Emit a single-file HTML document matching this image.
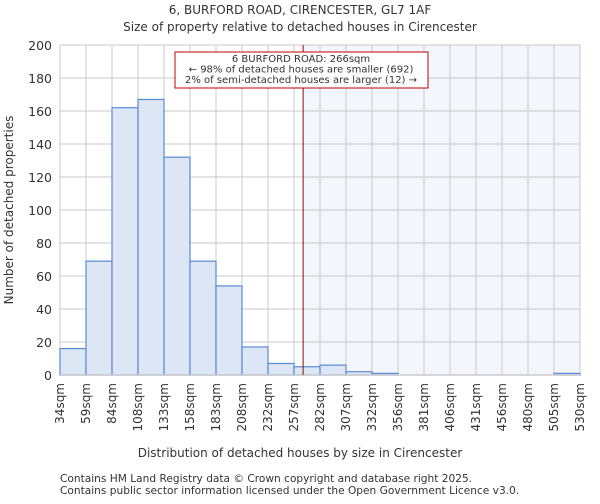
<!DOCTYPE html>
<html><head><meta charset="utf-8"><style>
body{margin:0;background:#fff;font-family:"DejaVu Sans","Liberation Sans",sans-serif}
svg text{font-family:"DejaVu Sans","Liberation Sans",sans-serif;fill:#333}
</style></head><body>
<svg width="600" height="500">
<text x="300" y="14" text-anchor="middle" font-size="12">6, BURFORD ROAD, CIRENCESTER, GL7 1AF</text>
<text x="300" y="31" text-anchor="middle" font-size="12">Size of property relative to detached houses in Cirencester</text>
<g id="plot"></g>
<text x="300" y="457" text-anchor="middle" font-size="12">Distribution of detached houses by size in Cirencester</text>
<text transform="translate(13,210) rotate(-90)" text-anchor="middle" font-size="12">Number of detached properties</text>
<text x="60" y="482" font-size="10.6" fill="#555">Contains HM Land Registry data © Crown copyright and database right 2025.</text>
<text x="60" y="494" font-size="10.6" fill="#555">Contains public sector information licensed under the Open Government Licence v3.0.</text>
</svg>
<script>
const categories=["34sqm","59sqm","84sqm","108sqm","133sqm","158sqm","183sqm","208sqm","232sqm","257sqm","282sqm","307sqm","332sqm","356sqm","381sqm","406sqm","431sqm","456sqm","480sqm","505sqm","530sqm"];
const counts=[16,69,162,167,132,69,54,17,7,5,6,2,1,0,0,0,0,0,0,1];
const yTicks=[0,20,40,60,80,100,120,140,160,180,200];
const markerBin=9.35;
const NS="http://www.w3.org/2000/svg";
const g=document.getElementById('plot');
const X0=60,X1=580,Y0=375,Y1=45,YMAX=200;
const bw=(X1-X0)/counts.length;
const xs=i=>X0+i*bw;
const ys=v=>Y0-v/YMAX*(Y0-Y1);
function el(t,a){const e=document.createElementNS(NS,t);for(const k in a)e.setAttribute(k,a[k]);g.appendChild(e);return e;}
let sh=el('rect',{x:xs(markerBin),y:Y1,width:X1-xs(markerBin),height:Y0-Y1,fill:'#f3f6fd'});


yTicks.forEach(v=>{
 let l=el('line',{x1:X0,x2:X1,y1:ys(v),y2:ys(v),stroke:'#c8c8c8'});
 
 
 let t=el('text',{x:X0-8,y:ys(v)+5,'text-anchor':'end','font-size':12.5});
 t.textContent=v;
 
 
});
categories.forEach((c,i)=>{
 let l=el('line',{x1:xs(i),x2:xs(i),y1:Y1,y2:Y0,stroke:'#c8c8c8'});
 
 
 let t=el('text',{transform:`translate(${xs(i)+4},${Y0+8}) rotate(-90)`,'text-anchor':'end','font-size':12});
 t.textContent=c;
 
 
});
counts.forEach((v,i)=>{
 if(v<=0)return;
 let r=el('rect',{x:xs(i),y:ys(v),width:bw,height:Y0-ys(v),fill:'#dce6f4',stroke:'#5a8ad6','stroke-width':1.2});
 
 
});
let ax=el('line',{x1:X0,x2:X1,y1:Y0,y2:Y0,stroke:'#ccc','stroke-width':1.5});


let ml=el('line',{x1:xs(markerBin),x2:xs(markerBin),y1:Y1,y2:Y0,stroke:'#8a0a0a','stroke-width':1});


let bx=el('rect',{x:175,y:52,width:253,height:36,fill:'#fff',stroke:'#c00000','stroke-width':1});


["6 BURFORD ROAD: 266sqm","← 98% of detached houses are smaller (692)","2% of semi-detached houses are larger (12) →"].forEach((s,k)=>{
 let t=el('text',{x:301,y:62+k*10.5,'text-anchor':'middle','font-size':10});
 t.textContent=s;
 
 
});
</script>
</body></html>
